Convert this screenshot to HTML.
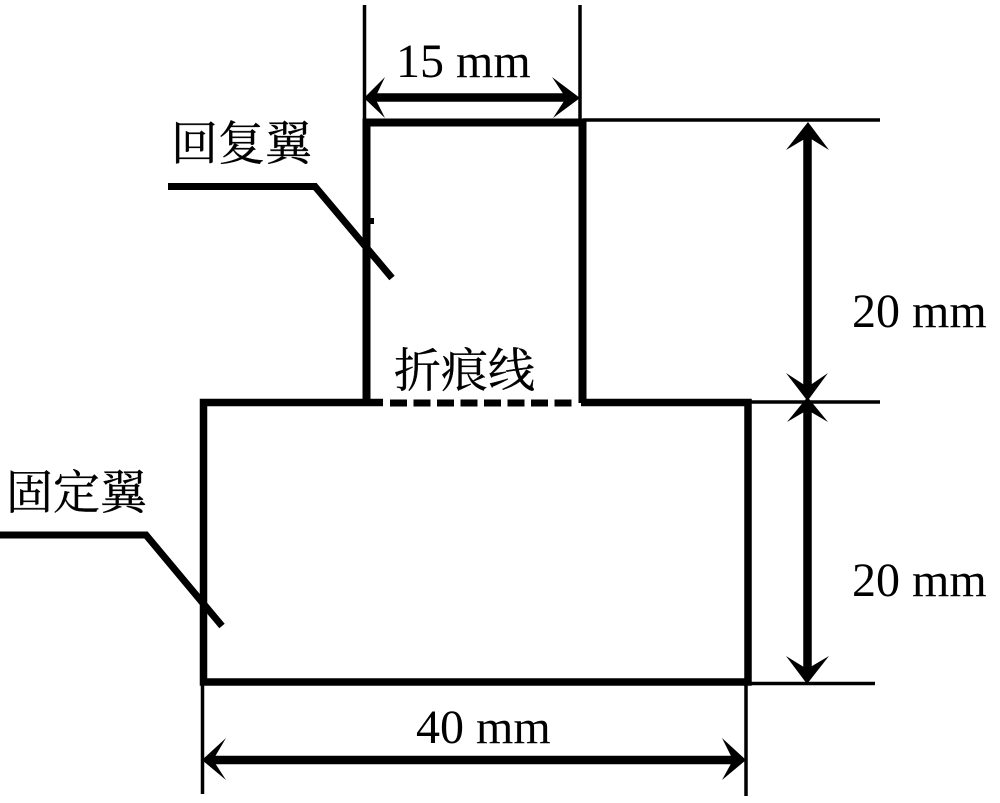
<!DOCTYPE html>
<html><head><meta charset="utf-8"><style>
html,body{margin:0;padding:0;background:#fff;width:1000px;height:803px;overflow:hidden}
svg{display:block}
text{fill:#000}
.l{font-family:"Liberation Serif",serif;font-size:48px}
.c{font-family:"Noto Serif CJK SC","Liberation Serif",serif;font-size:47px;stroke:#000;stroke-width:.35px}
</style></head><body>
<svg width="1000" height="803" viewBox="0 0 1000 803" xmlns="http://www.w3.org/2000/svg">
<g fill="none" stroke="#000">
<!-- thick outlines -->
<path d="M366.5 403V122.5H582.5V403" stroke-width="8"/>
<path d="M383 402.5H203.5V682H748V402.5H581" stroke-width="7.5"/>
<path d="M390 403H578" stroke-width="7" stroke-dasharray="17 6.5"/>
<!-- leaders -->
<path d="M168 186.5H315L392 278" stroke-width="7"/>
<path d="M0 535H146L222 626" stroke-width="7"/>
<!-- thin extension lines -->
<g stroke-width="3.5">
<path d="M364.5 5V120"/><path d="M580 5V120"/>
<path d="M583 120H880"/><path d="M749 402H880"/><path d="M749 683.5H875"/>
<path d="M202.5 684V794"/><path d="M746 684V796"/>
</g>
<!-- dimension lines -->
<g stroke-width="8.5">
<path d="M372 97.5H570"/>
<path d="M807.5 132V392"/><path d="M807.5 410V672"/>
<path d="M212 760H735"/>
</g>
</g>
<!-- filled arrowheads -->
<g fill="#000" stroke="none">
<path d="M364 98L385 77L375 98L385 118Z"/>
<path d="M580 98L552 77L566 98L553 118Z"/>
<path d="M808 122L786 150L808 137L829 150Z"/>
<path d="M807.5 401L786 373L807.5 387L828 373Z"/>
<path d="M807.5 397L787 422L807.5 410L828 422Z"/>
<path d="M807 684L786 656L807 669L829 656Z"/>
<path d="M202 760L226 738L213 760L226 780Z"/>
<path d="M746 760L722 738L733 760L722 780Z"/>
</g>
<rect x="370" y="218" width="4" height="6" fill="#000"/>
<text class="l" x="396" y="77">15 mm</text>
<text class="l" x="852" y="327">20 mm</text>
<text class="l" x="852" y="596">20 mm</text>
<text class="l" x="416" y="743">40 mm</text>
<text class="c" x="171" y="160">回复翼</text>
<text class="c" x="394" y="387">折痕线</text>
<text class="c" x="6" y="509">固定翼</text>
</svg>
</body></html>
